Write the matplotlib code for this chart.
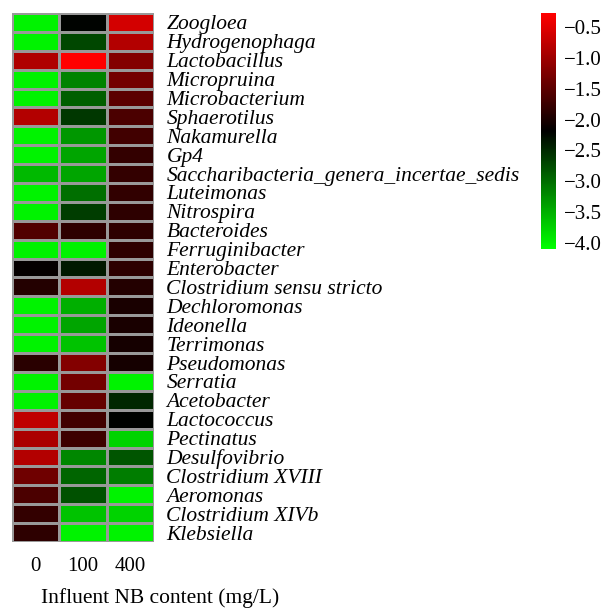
import matplotlib.pyplot as plt
import numpy as np
from matplotlib.colors import LinearSegmentedColormap

genera = ["Zoogloea", "Hydrogenophaga", "Lactobacillus", "Micropruina", "Microbacterium",
          "Sphaerotilus", "Nakamurella", "Gp4", "Saccharibacteria_genera_incertae_sedis",
          "Luteimonas", "Nitrospira", "Bacteroides", "Ferruginibacter", "Enterobacter",
          "Clostridium sensu stricto", "Dechloromonas", "Ideonella", "Terrimonas",
          "Pseudomonas", "Serratia", "Acetobacter", "Lactococcus", "Pectinatus",
          "Desulfovibrio", "Clostridium XVIII", "Aeromonas", "Clostridium XIVb", "Klebsiella"]
doses = ["0", "100", "400"]

# log relative abundance per NB dose
nb_0 = [-4.0, -4.0, -0.87, -4.0, -4.0, -0.84, -4.0, -4.0, -3.57, -4.0, -4.0, -1.58, -4.0, -2.15,
        -1.92, -4.0, -4.0, -4.0, -1.88, -4.0, -4.0, -0.76, -0.91, -0.84, -1.36, -1.62, -1.81, -1.85]
nb_100 = [-2.2, -2.71, -0.27, -3.16, -2.9, -2.6, -3.31, -3.42, -3.42, -3.01, -2.64, -1.85, -4.0, -2.37,
          -0.84, -3.5, -3.42, -3.65, -1.21, -1.32, -1.43, -1.70, -1.73, -3.2, -2.94, -2.79, -3.65, -4.0]
nb_400 = [-0.61, -0.84, -1.21, -1.32, -1.51, -1.62, -1.70, -1.81, -1.81, -1.82, -1.85, -1.85, -1.85, -1.85,
          -1.92, -2.0, -2.0, -2.03, -2.03, -4.0, -2.48, -2.2, -3.76, -2.82, -3.12, -4.0, -3.76, -4.0]

data = np.array([nb_0, nb_100, nb_400]).T

plt.rcParams['font.family'] = ['Liberation Serif', 'DejaVu Serif']
cmap = LinearSegmentedColormap.from_list("gkr", ["#00ff00", "#000000", "#ff0000"])
vmin, vmax = -4.1, -0.27

fig = plt.figure(figsize=(6.06, 6.08), dpi=100)
ax = fig.add_axes([0.0198, 0.1086, 0.2343, 0.870])
mesh = ax.pcolormesh(data, cmap=cmap, vmin=vmin, vmax=vmax, edgecolors="#999999", linewidth=1)
ax.set_ylim(len(genera), 0)
ax.set_xlim(0, 3)
for s in ax.spines.values():
    s.set_visible(False)

ax.set_yticks(np.arange(len(genera)) + 0.5)
ax.set_yticklabels(genera, fontstyle="italic", fontsize=15.5)
ax.yaxis.tick_right()
ax.tick_params(axis="y", length=0, pad=9)
ax.set_xticks(np.arange(3) + 0.5)
ax.set_xticklabels(doses, fontsize=15)
ax.tick_params(axis="x", length=0, pad=11)

fig.text(160 / 606, 1 - 598 / 608, "Influent NB content (mg/L)", fontsize=15.5,
         ha="center", va="center")

cax = fig.add_axes([0.8927, 0.5905, 0.0248, 0.388])
cb = fig.colorbar(mesh, cax=cax)
cb.outline.set_visible(False)
cb.set_ticks([-0.5, -1.0, -1.5, -2.0, -2.5, -3.0, -3.5, -4.0])
cb.ax.tick_params(length=0, labelsize=15, pad=6)

fig.savefig("out.png", dpi=100)
